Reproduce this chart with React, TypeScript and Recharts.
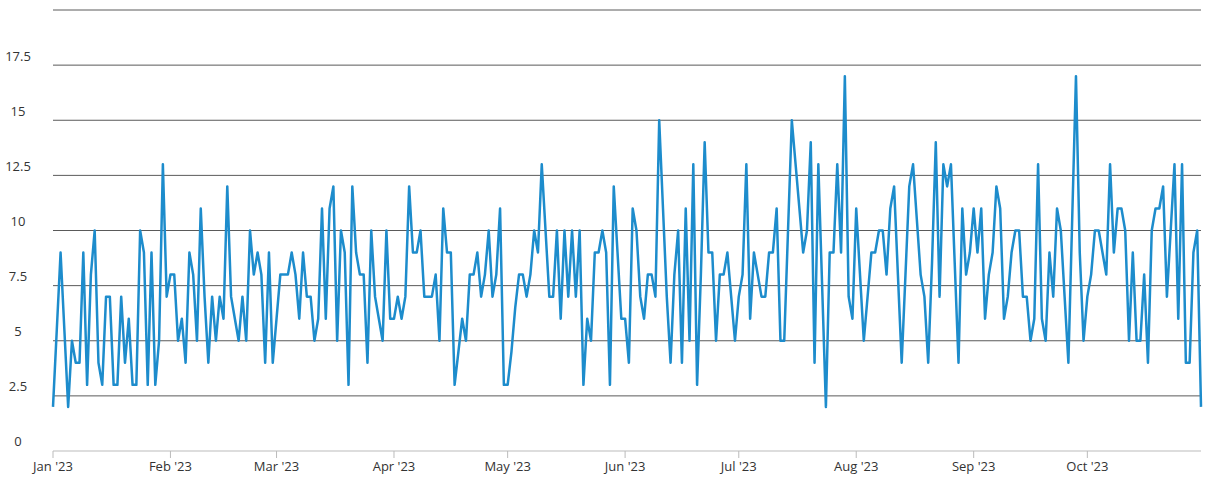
import { LineChart, Line, XAxis, YAxis, ReferenceLine } from 'recharts';

// daily values, Jan 1 2023 .. Oct 31 2023 (index = day of year, 0-based)
const values = [
  2, 5.5, 9, 5.5, 2, 5, 4, 4, 9, 3, 8, 10, 4, 3, 7, 7, 3, 3, 7, 4,
  6, 3, 3, 10, 9, 3, 9, 3, 5, 13, 7, 8, 8, 5, 6, 4, 9, 8, 5, 11,
  7, 4, 7, 5, 7, 6, 12, 7, 6, 5, 7, 5, 10, 8, 9, 8, 4, 9, 4, 6,
  8, 8, 8, 9, 8, 6, 9, 7, 7, 5, 6, 11, 6, 11, 12, 5, 10, 9, 3, 12,
  9, 8, 8, 4, 10, 7, 6, 5, 10, 6, 6, 7, 6, 7, 12, 9, 9, 10, 7, 7,
  7, 8, 5, 11, 9, 9, 3, 4.5, 6, 5, 8, 8, 9, 7, 8, 10, 7, 8, 11, 3,
  3, 4.5, 6.5, 8, 8, 7, 8, 10, 9, 13, 10, 7, 7, 10, 6, 10, 7, 10, 7, 10,
  3, 6, 5, 9, 9, 10, 9, 3, 12, 9, 6, 6, 4, 11, 10, 7, 6, 8, 8, 7,
  15, 11, 7, 4, 8, 10, 4, 11, 5, 13, 3, 8, 14, 9, 9, 5, 8, 8, 9, 7,
  5, 7, 8, 13, 6, 9, 8, 7, 7, 9, 9, 11, 5, 5, 10, 15, 13, 11, 9, 10,
  14, 4, 13, 7.5, 2, 9, 9, 13, 9, 17, 7, 6, 11, 8, 5, 7, 9, 9, 10, 10,
  8, 11, 12, 8, 4, 8, 12, 13, 10.5, 8, 7, 4, 8.5, 14, 7, 13, 12, 13, 8.5, 4,
  11, 8, 9, 11, 9, 11, 6, 8, 9, 12, 11, 6, 7, 9, 10, 10, 7, 7, 5, 6,
  13, 6, 5, 9, 7, 11, 10, 7, 4, 10.5, 17, 9, 5, 7, 8, 10, 10, 9, 8, 13,
  9, 11, 11, 10, 5, 9, 5, 5, 8, 4, 10, 11, 11, 12, 7, 10, 13, 6, 13, 4,
  4, 9, 10, 2,
];

const monthTicks = [0, 31, 59, 90, 120, 151, 181, 212, 243, 273];
const monthLabels = ["Jan '23", "Feb '23", "Mar '23", "Apr '23", "May '23", "Jun '23", "Jul '23", "Aug '23", "Sep '23", "Oct '23"];
const yTicks = [0, 2.5, 5, 7.5, 10, 12.5, 15, 17.5, 20];

const data = values.map((value, day) => ({ day, value }));

const font = "'Open Sans', sans-serif";

const YTick = ({ y, payload }: any) => {
  if (payload.value === 20) return null;
  return (
    <text x={18} y={y - 8} textAnchor="middle" dominantBaseline="middle" fontSize={13} fill="#333" fontFamily={font}>
      {payload.value}
    </text>
  );
};

export default function App() {
  return (
    <div style={{ width: 1209, height: 482, background: '#fff' }}>
      <style>{`body{margin:0;background:#fff}`}</style>
      <LineChart width={1209} height={482} data={data} margin={{ top: 10, right: 8, left: 0, bottom: 0 }}>
        {yTicks.slice(1).map((v) => (
          <ReferenceLine key={v} y={v} stroke="#5a5a5a" strokeWidth={1} />
        ))}
        <XAxis
          dataKey="day"
          type="number"
          domain={[0, values.length - 1]}
          ticks={monthTicks}
          tickFormatter={(d: number) => monthLabels[monthTicks.indexOf(d)]}
          height={31}
          interval={0}
          stroke="#bbb"
          tickSize={7}
          tickMargin={4}
          tick={{ fontSize: 13, fill: '#333', fontFamily: font }}
        />
        <YAxis
          domain={[0, 20]}
          ticks={yTicks}
          width={53}
          axisLine={false}
          tickLine={false}
          tick={<YTick />}
        />
        <Line
          type="linear"
          dataKey="value"
          stroke="#1d8ccc"
          strokeWidth={2.5}
          strokeLinejoin="round"
          dot={false}
          isAnimationActive={false}
        />
      </LineChart>
    </div>
  );
}
